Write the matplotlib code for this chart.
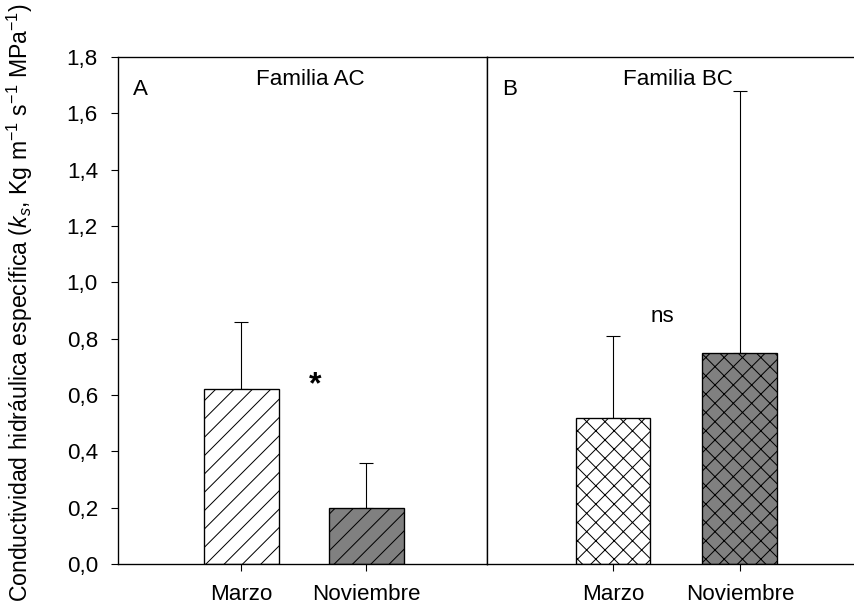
import matplotlib
matplotlib.use("Agg")
import matplotlib.pyplot as plt
import numpy as np

# ---- data ----
categories = ["Marzo", "Noviembre"]
panelA_means = [0.62, 0.20]
panelA_err = [0.24, 0.16]
panelB_means = [0.52, 0.75]
panelB_err = [0.29, 0.93]
yticks = [0.0, 0.2, 0.4, 0.6, 0.8, 1.0, 1.2, 1.4, 1.6, 1.8]
ytick_labels = ["0,0", "0,2", "0,4", "0,6", "0,8", "1,0", "1,2", "1,4", "1,6", "1,8"]
panel_titles = ["Familia AC", "Familia BC"]
panel_letters = ["A", "B"]
sig_labels = ["*", "ns"]

DPI = 110
PX = 72.0 / DPI  # points per pixel

plt.rcParams['font.family'] = ['Liberation Sans', 'DejaVu Sans']
plt.rcParams['mathtext.fontset'] = 'custom'
plt.rcParams['mathtext.rm'] = 'Liberation Sans'
plt.rcParams['mathtext.it'] = 'Liberation Sans:italic'
plt.rcParams['hatch.linewidth'] = 1.0 * PX
plt.rcParams['font.size'] = 22.4 * PX

W, H = 854, 606
fig = plt.figure(figsize=(W / DPI, H / DPI), dpi=DPI)

bottom = (H - 564) / H
height = (564 - 57) / H
axA = fig.add_axes([118 / W, bottom, (487 - 118) / W, height])
axB = fig.add_axes([487 / W, bottom, (855 - 487) / W, height])

lw = 1.35 * PX
x = np.arange(len(categories))

def draw(ax, means, errs, hatch, width):
    colors = ["white", "#808080"]
    for i in range(len(means)):
        ax.bar(x[i], means[i], width=width, color=colors[i], edgecolor="black",
               linewidth=lw, hatch=hatch, zorder=2)
        ax.errorbar(x[i], means[i], yerr=[[0], [errs[i]]], fmt='none',
                    ecolor="black", elinewidth=1.1 * PX, capsize=6.5 * PX,
                    capthick=1.1 * PX, zorder=1)
    ax.set_ylim(0, 1.8)
    ax.set_xticks(x)
    ax.set_xticklabels(categories)
    ax.tick_params(axis='x', direction='out', length=7 * PX, width=1.1 * PX, pad=13 * PX)
    for s in ax.spines.values():
        s.set_linewidth(lw)

draw(axA, panelA_means, panelA_err, '//', 0.6)
draw(axB, panelB_means, panelB_err, 'xx', 0.59)

axA.set_xlim(-0.984, 1.968)
axB.set_xlim(-0.992, 1.906)

axA.set_yticks(yticks)
axA.set_yticklabels(ytick_labels)
axA.tick_params(axis='y', direction='out', length=7 * PX, width=1.1 * PX, pad=13 * PX)
axB.set_yticks([])
axB.spines['right'].set_visible(False)

for ax, letter, title in zip([axA, axB], panel_letters, panel_titles):
    ax.text(0.04, 0.935, letter, transform=ax.transAxes, ha='left', va='center')
    ax.text(0.52, 0.955, title, transform=ax.transAxes, ha='center', va='center')

axA.text(0.59, 0.605, sig_labels[0], ha='center', va='baseline',
         fontsize=32 * PX, fontweight='bold')
axB.text(0.39, 0.86, sig_labels[1], ha='center', va='baseline')

fig.text(20 / W, (H - 303) / H,
         "Conductividad hidráulica específica ($k_s$, Kg m$^{-1}$ s$^{-1}$ MPa$^{-1}$)",
         rotation=90, ha='center', va='center', fontsize=23 * PX)

fig.savefig("out.png", dpi=DPI)
